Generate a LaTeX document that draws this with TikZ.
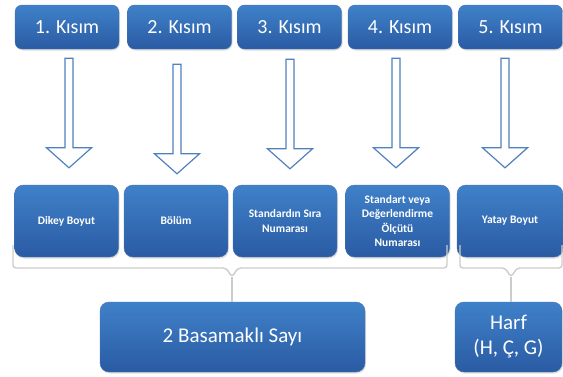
\documentclass[tikz,border=0pt]{standalone}
\usepackage{fontspec}
\setmainfont{Carlito}
\usetikzlibrary{calc,shadows}

\definecolor{boxtop}{HTML}{3F81C9}
\definecolor{boxbottom}{HTML}{2A5BA3}
\definecolor{arrowblue}{HTML}{4F81BD}

\tikzset{
  bluebox/.style={rounded corners=7pt, top color=boxtop, bottom color=boxbottom,
    draw=boxbottom!85!white, text=white, align=center, inner sep=2pt,
    drop shadow={opacity=0.25, shadow xshift=1pt, shadow yshift=-1.5pt}},
  kisim/.style={bluebox, minimum width=104pt, minimum height=44pt,
    font=\fontsize{20}{24}\selectfont},
  detay/.style={bluebox, minimum width=104pt, minimum height=72pt, rounded corners=9pt,
    font=\bfseries\fontsize{11.5}{14.5}\selectfont},
  sonuc/.style={bluebox, minimum height=70pt, rounded corners=9pt,
    font=\fontsize{21}{25}\selectfont},
  hollow/.style={draw=arrowblue, line width=1.2pt, fill=white, line join=miter},
  bracket/.style={draw=gray!40, line width=1.4pt, rounded corners=3pt},
}

% hollow block arrow: x shift, y shift, from, to
\newcommand{\kisimarrow}[4]{%
  \draw[hollow] ($(#3.south)+(#1-4,9+#2)$) -- ($(#3.south)+(#1+4,9+#2)$)
    -- ($(#3.south |- #4.north)+(#1+4,-37+#2)$)
    -- ($(#3.south |- #4.north)+(#1+22.5,-37+#2)$)
    -- ($(#3.south |- #4.north)+(#1,-17+#2)$)
    -- ($(#3.south |- #4.north)+(#1-22.5,-37+#2)$)
    -- ($(#3.south |- #4.north)+(#1-4,-37+#2)$) -- cycle;}

\begin{document}
\begin{tikzpicture}[x=1pt, y=-1pt]
  \useasboundingbox (0,0) rectangle (563,376);

  % parts
  \node[kisim] (k1) at (67,27) {1. Kısım};
  \node[kisim] (k2) at (179.5,27) {2. Kısım};
  \node[kisim] (k3) at (289.5,27) {3. Kısım};
  \node[kisim] (k4) at (400,27) {4. Kısım};
  \node[kisim] (k5) at (510.5,27) {5. Kısım};

  % meanings
  \node[detay] (d1) at (66.5,221) {Dikey Boyut};
  \node[detay] (d2) at (176,221) {Bölüm};
  \node[detay] (d3) at (285,221) {Standardın Sıra\\Numarası};
  \node[detay] (d4) at (397.5,221) {Standart veya\\Değerlendirme\\Ölçütü\\Numarası};
  \node[detay, minimum width=106pt] (d5) at (510,221) {Yatay Boyut};

  % arrows
  \kisimarrow{2}{0}{k1}{d1}
  \kisimarrow{-2.5}{6}{k2}{d2}
  \kisimarrow{0.5}{1}{k3}{d3}
  \kisimarrow{-4}{0}{k4}{d4}
  \kisimarrow{-5.5}{0}{k5}{d5}

  % brackets
  \coordinate (tip1) at (232,277);
  \coordinate (tip2) at (511,277);
  \draw[bracket] (13,245) -- (13,268) -- (226,268) -- (tip1) -- (238,268)
    -- (447,268) -- (447,245);
  \draw[bracket] (460,245) -- (460,268) -- (505,268) -- (tip2) -- (517,268)
    -- (562,268) -- (562,245);

  % results
  \node[sonuc, minimum width=265pt] (b1) at (232.5,337) {2 Basamaklı Sayı};
  \node[sonuc, minimum width=107pt] (b2) at (508.5,337) {Harf\\(H, Ç, G)};

  \draw[bracket] (tip1) -- (tip1 |- b1.north);
  \draw[bracket] (tip2) -- (tip2 |- b2.north);
\end{tikzpicture}
\end{document}
